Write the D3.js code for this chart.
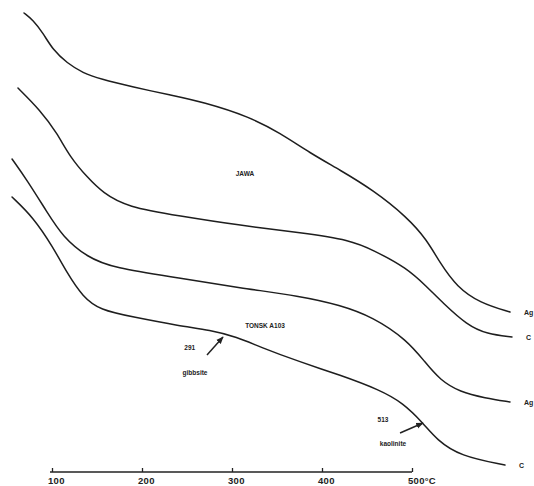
<!DOCTYPE html>
<html>
<head>
<meta charset="utf-8">
<script src="https://cdn.jsdelivr.net/npm/d3@7"></script>
<style>
  html, body { margin: 0; padding: 0; background: #fff; }
  svg { display: block; }
  text { font-family: "Liberation Sans", Arial, sans-serif; font-weight: bold; fill: #222; }
</style>
</head>
<body>
<svg id="chart" width="534" height="486"></svg>
<script>
// Temperature (°C) and deflection (arbitrary units) for the four thermal curves
const jawaAgT = [68.9, 78.9, 90, 101.1, 116.7, 134.4, 153.3, 190, 231.1, 267.8, 320, 353.3, 386.7, 420, 456.7, 494.4, 516.7, 531.1, 550, 575.6, 608.9];
const jawaAgV = [45.9, 45.2, 43.9, 42.2, 40.9, 39.9, 39.3, 38.5, 37.7, 37.0, 35.5, 33.9, 31.9, 30.2, 28.2, 25.5, 23.2, 20.9, 18.5, 16.9, 16.0];

const jawaCT = [62.2, 86.7, 105.6, 120, 138.9, 156.7, 183.3, 242.2, 305.6, 378.9, 431.1, 456.7, 494.4, 516.7, 534.4, 561.1, 583.3, 611.1];
const jawaCV = [38.4, 36.2, 33.9, 31.5, 29.5, 27.9, 26.5, 25.6, 24.7, 23.9, 23.2, 22.2, 20.4, 18.5, 16.9, 14.7, 13.8, 13.5];

const tonskAgT = [55.6, 72.2, 94.4, 112.2, 138.9, 167.8, 242.2, 308.9, 375.6, 420, 456.7, 494.4, 514.4, 531.1, 553.3, 581.1, 608.9];
const tonskAgV = [31.3, 29.2, 26.0, 23.5, 21.5, 20.4, 19.4, 18.4, 17.6, 16.7, 15.5, 13.2, 11.0, 9.2, 8.0, 7.4, 7.0];

const tonskCT = [55.6, 78.9, 101.1, 116.7, 134.4, 153.3, 190, 242.2, 275.6, 305.6, 331.1, 375.6, 420, 464.4, 490, 512.2, 527.8, 553.3, 603.3];
const tonskCV = [27.5, 25.5, 22.5, 19.9, 17.5, 16.2, 15.5, 14.6, 14.2, 13.5, 12.5, 11.0, 9.7, 8.2, 6.9, 4.9, 3.2, 1.6, 0.7];

const curveEndLabels = ["Ag", "C", "Ag", "C"];

const axisTicks = [100, 200, 300, 400, 500];
const axisTickLabels = ["100", "200", "300", "400", "500°C"];

// Sample names
const sampleNames = ["JAWA", "TONSK A103"];
const sampleNameT = [314.4, 336.7];
const sampleNameV = [29.9, 14.7];

// Peak annotations: arrow from tail to head, value and mineral
const peakLabels = ["291", "513"];
const peakMinerals = ["gibbsite", "kaolinite"];
const arrowTailT = [272.2, 486.7];
const arrowTailV = [11.7, 3.9];
const arrowHeadT = [290, 512.2];
const arrowHeadV = [13.5, 4.9];
const peakLabelT = [253, 467.8];
const peakLabelV = [12.5, 5.3];
const mineralT = [258.9, 478.9];
const mineralV = [10.0, 2.9];

const svg = d3.select("#chart");

const x = d3.scaleLinear().domain([100, 500]).range([52, 412]);
const y = d3.scaleLinear().domain([0, 47.2]).range([472, 0]);

const series = [
  [jawaAgT, jawaAgV],
  [jawaCT, jawaCV],
  [tonskAgT, tonskAgV],
  [tonskCT, tonskCV]
].map(([t, v]) => t.map((d, i) => ({ t: d, v: v[i] })));

const line = d3.line()
  .x(d => x(d.t))
  .y(d => y(d.v))
  .curve(d3.curveBasis);

svg.append("g")
  .selectAll("path")
  .data(series)
  .join("path")
  .attr("d", line)
  .attr("fill", "none")
  .attr("stroke", "#1e1e1e")
  .attr("stroke-width", 1.5)
  .attr("stroke-linecap", "round");

// Curve labels at the right-hand ends
svg.append("g")
  .selectAll("text")
  .data(series)
  .join("text")
  .attr("x", d => x(d[d.length - 1].t) + 14)
  .attr("y", d => y(d[d.length - 1].v) + 3)
  .attr("font-size", 7)
  .text((d, i) => curveEndLabels[i]);

// Temperature axis
const axisG = svg.append("g").attr("transform", `translate(0,${y(0)})`);
const axis = d3.axisTop(x)
  .tickValues(axisTicks)
  .tickSize(4)
  .tickFormat("");
axisG.call(axis);
axisG.select(".domain").remove();
axisG.append("line")
  .attr("x1", x(100) - 2).attr("x2", x(500))
  .attr("y1", 0).attr("y2", 0)
  .attr("stroke", "#222").attr("stroke-width", 1.3);
axisG.selectAll(".tick line").attr("stroke", "#222").attr("stroke-width", 1.3);

svg.append("g")
  .selectAll("text")
  .data(axisTicks)
  .join("text")
  .attr("x", d => x(d) - 4)
  .attr("y", y(0) + 12)
  .attr("font-size", 9.5)
  .attr("letter-spacing", 0.3)
  .text((d, i) => axisTickLabels[i]);

// Sample names
svg.append("g")
  .selectAll("text")
  .data(sampleNames)
  .join("text")
  .attr("x", (d, i) => x(sampleNameT[i]))
  .attr("y", (d, i) => y(sampleNameV[i]) + 2.5)
  .attr("text-anchor", "middle")
  .attr("font-size", 6.5)
  .text(d => d);

// Peak arrows
const defs = svg.append("defs");
defs.append("marker")
  .attr("id", "head")
  .attr("viewBox", "0 0 10 10")
  .attr("refX", 9).attr("refY", 5)
  .attr("markerWidth", 5).attr("markerHeight", 5)
  .attr("orient", "auto")
  .append("path")
  .attr("d", "M0,1 L10,5 L0,9 Z")
  .attr("fill", "#222");

svg.append("g")
  .selectAll("line")
  .data(peakLabels)
  .join("line")
  .attr("x1", (d, i) => x(arrowTailT[i]))
  .attr("y1", (d, i) => y(arrowTailV[i]))
  .attr("x2", (d, i) => x(arrowHeadT[i]))
  .attr("y2", (d, i) => y(arrowHeadV[i]))
  .attr("stroke", "#222")
  .attr("stroke-width", 1.5)
  .attr("marker-end", "url(#head)");

svg.append("g")
  .selectAll("text")
  .data(peakLabels)
  .join("text")
  .attr("x", (d, i) => x(peakLabelT[i]))
  .attr("y", (d, i) => y(peakLabelV[i]) + 2.5)
  .attr("text-anchor", "middle")
  .attr("font-size", 6.5)
  .text(d => d);

svg.append("g")
  .selectAll("text")
  .data(peakMinerals)
  .join("text")
  .attr("x", (d, i) => x(mineralT[i]))
  .attr("y", (d, i) => y(mineralV[i]) + 2.5)
  .attr("text-anchor", "middle")
  .attr("font-size", 6.5)
  .text(d => d);
</script>
</body>
</html>
